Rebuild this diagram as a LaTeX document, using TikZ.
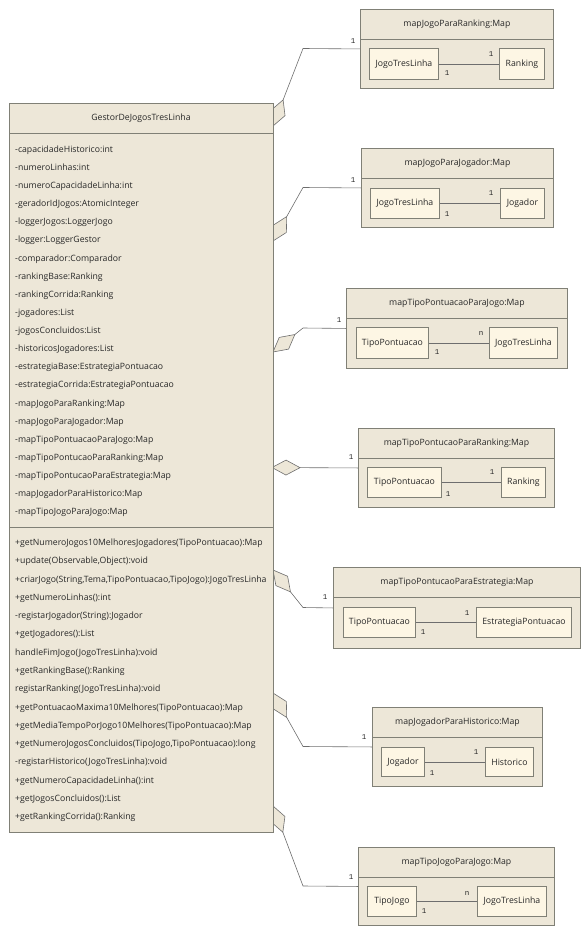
\documentclass[tikz,border=0pt]{standalone}
\usepackage{fontspec}
\setmainfont{Open Sans}
\newfontfamily\multfont{Liberation Mono}
\usetikzlibrary{calc}
\definecolor{classfill}{RGB}{237,231,216}
\definecolor{partfill}{RGB}{253,246,228}
\definecolor{edgecol}{RGB}{128,128,118}
\definecolor{linkcol}{RGB}{110,110,110}
\definecolor{textcol}{RGB}{40,40,40}
\newcommand\uml{\fontsize{8.7}{10}\selectfont}
\tikzset{
  box/.style={draw=edgecol, fill=classfill, line width=0.9pt, inner sep=0pt, anchor=north west},
  part/.style={draw=edgecol, fill=partfill, line width=0.9pt, inner sep=0pt, anchor=north west, font=\uml, text=textcol},
  member/.style={anchor=west, inner sep=0pt, font=\uml, text=textcol, text height=6.4pt, text depth=1.8pt},
  title/.style={inner sep=0pt, font=\uml, text=textcol},
  mult/.style={inner sep=0pt, font=\multfont\fontsize{7.5}{8}\selectfont, text=textcol},
  link/.style={draw=linkcol, line width=0.6pt},
  agg/.style={draw=linkcol, fill=classfill, line width=0.6pt, line join=miter},
}
% aggregation diamond: tip #1, pointing towards #2, far vertex named #3
\newcommand\aggregation[3]{%
  \draw[agg] (#1) -- ($(#1)!15.88pt!28.18:(#2)$) -- ($(#1)!28pt!(#2)$) coordinate (#3)
    -- ($(#1)!15.88pt!-28.18:(#2)$) -- cycle;}
% map compartment: name, top-left, width, height, title
\newcommand\mapbox[5]{%
  \node[box, minimum width=#3, minimum height=#4] (#1) at (#2) {};
  \node[title] (#1t) at ($(#1.north)+(0,15)$) {#5};
  \draw[draw=edgecol, line width=0.9pt] ($(#1.north west)+(0,30)$) -- ($(#1.north east)+(0,30)$);}
\begin{document}
\begin{tikzpicture}[x=1pt, y=-1pt]
\useasboundingbox (0,0) rectangle (588,934);

% ---- map objects on the right ----
\mapbox{mb1}{360,9}{193}{79}{mapJogoParaRanking:Map}
\node[part, minimum width=69, minimum height=31] (p1a) at (369,48) {JogoTresLinha};
\node[part, minimum width=45, minimum height=31] (p1b) at (499,48) {Ranking};
\draw[link] (p1a) -- (p1b);
\node[mult] (m1b) at (491,54) {1};
\node[mult] (m1a) at (447,73) {1};
\node[mult] (m1o) at (353,41) {1};

\mapbox{mb2}{361,148}{192}{79}{mapJogoParaJogador:Map}
\node[part, minimum width=69, minimum height=30] (p2a) at (370,188) {JogoTresLinha};
\node[part, minimum width=44, minimum height=30] (p2b) at (500,188) {Jogador};
\draw[link] (p2a) -- (p2b);
\node[mult] (m2b) at (491,193) {1};
\node[mult] (m2a) at (447,214) {1};
\node[mult] (m2o) at (353,180) {1};

\mapbox{mb3}{346,288}{221}{80}{mapTipoPontuacaoParaJogo:Map}
\node[part, minimum width=72, minimum height=31] (p3a) at (356,327) {TipoPontuacao};
\node[part, minimum width=68, minimum height=31] (p3b) at (489,327) {JogoTresLinha};
\draw[link] (p3a) -- (p3b);
\node[mult] (m3b) at (481,333) {n};
\node[mult] (m3a) at (437,352) {1};
\node[mult] (m3o) at (339,320) {1};

\mapbox{mb4}{358,428}{196}{79}{mapTipoPontucaoParaRanking:Map}
\node[part, minimum width=74, minimum height=30] (p4a) at (367,467) {TipoPontuacao};
\node[part, minimum width=44, minimum height=30] (p4b) at (501,467) {Ranking};
\draw[link] (p4a) -- (p4b);
\node[mult] (m4b) at (492,472) {1};
\node[mult] (m4a) at (448,494) {1};
\node[mult] (m4o) at (351,457) {1};

\mapbox{mb5}{333,567}{247}{81}{mapTipoPontucaoParaEstrategia:Map}
\node[part, minimum width=72, minimum height=30] (p5a) at (343,607) {TipoPontuacao};
\node[part, minimum width=95, minimum height=30] (p5b) at (476,607) {EstrategiaPontuacao};
\draw[link] (p5a) -- (p5b);
\node[mult] (m5b) at (467,613) {1};
\node[mult] (m5a) at (423,632) {1};
\node[mult] (m5o) at (325,597) {1};

\mapbox{mb6}{372,707}{170}{79}{mapJogadorParaHistorico:Map}
\node[part, minimum width=43, minimum height=29] (p6a) at (381,747) {Jogador};
\node[part, minimum width=48, minimum height=29] (p6b) at (485,747) {Historico};
\draw[link] (p6a) -- (p6b);
\node[mult] (m6b) at (476,752) {1};
\node[mult] (m6a) at (432,773) {1};
\node[mult] (m6o) at (364,737) {1};

\mapbox{mb7}{358,847}{196}{78}{mapTipoJogoParaJogo:Map}
\node[part, minimum width=49, minimum height=30] (p7a) at (367,886) {TipoJogo};
\node[part, minimum width=69, minimum height=30] (p7b) at (477,886) {JogoTresLinha};
\draw[link] (p7a) -- (p7b);
\node[mult] (m7b) at (467,893) {n};
\node[mult] (m7a) at (424,911) {1};
\node[mult] (m7o) at (351,877) {1};

% ---- aggregation links from the manager class ----
\coordinate (t1) at (273,126); \coordinate (b1) at (303,48.5);
\coordinate (t2) at (273,241); \coordinate (b2) at (303,187.5);
\coordinate (t3) at (273,352); \coordinate (b3) at (303,328);
\coordinate (t4) at (272,467.5);
\coordinate (t5) at (273,570); \coordinate (b5) at (303,607.5);
\coordinate (t6) at (273,693); \coordinate (b6) at (303,746.5);
\coordinate (t7) at (273,806); \coordinate (b7) at (303,886);

\aggregation{t1}{b1}{f1} \draw[link] (f1) -- (b1) -- (mb1.west);
\aggregation{t2}{b2}{f2} \draw[link] (f2) -- (b2) -- (mb2.west);
\aggregation{t3}{b3}{f3} \draw[link] (f3) -- (b3) -- (mb3.west);
\aggregation{t4}{mb4.west}{f4} \draw[link] (f4) -- (mb4.west);
\aggregation{t5}{b5}{f5} \draw[link] (f5) -- (b5) -- (mb5.west);
\aggregation{t6}{b6}{f6} \draw[link] (f6) -- (b6) -- (mb6.west);
\aggregation{t7}{b7}{f7} \draw[link] (f7) -- (b7) -- (mb7.west);

% ---- manager class ----
\node[box, minimum width=264, minimum height=729] (gestor) at (9,103) {};
\node[title] (gestort) at (141,118) {GestorDeJogosTresLinha};
\draw[draw=edgecol, line width=0.9pt] ($(gestor.north west)+(0,30)$) -- ($(gestor.north east)+(0,30)$);
\draw[draw=edgecol, line width=0.9pt] ($(gestor.north west)+(0,424)$) -- ($(gestor.north east)+(0,424)$);

\foreach \t [count=\i] in {
  -capacidadeHistorico:int,
  -numeroLinhas:int,
  -numeroCapacidadeLinha:int,
  -geradorIdJogos:AtomicInteger,
  -loggerJogos:LoggerJogo,
  -logger:LoggerGestor,
  -comparador:Comparador,
  -rankingBase:Ranking,
  -rankingCorrida:Ranking,
  -jogadores:List,
  -jogosConcluidos:List,
  -historicosJogadores:List,
  -estrategiaBase:EstrategiaPontuacao,
  -estrategiaCorrida:EstrategiaPontuacao,
  -mapJogoParaRanking:Map,
  -mapJogoParaJogador:Map,
  -mapTipoPontuacaoParaJogo:Map,
  -mapTipoPontucaoParaRanking:Map,
  -mapTipoPontucaoParaEstrategia:Map,
  -mapJogadorParaHistorico:Map,
  -mapTipoJogoParaJogo:Map}
  \node[member] (attr\i) at (15,{150+18.13*(\i-1)}) {\t};

\foreach \t [count=\i] in {
  {+getNumeroJogos10MelhoresJogadores(TipoPontuacao):Map},
  {+update(Observable,Object):void},
  {+criarJogo(String,Tema,TipoPontuacao,TipoJogo):JogoTresLinha},
  {+getNumeroLinhas():int},
  {-registarJogador(String):Jogador},
  {+getJogadores():List},
  {handleFimJogo(JogoTresLinha):void},
  {+getRankingBase():Ranking},
  {registarRanking(JogoTresLinha):void},
  {+getPontuacaoMaxima10Melhores(TipoPontuacao):Map},
  {+getMediaTempoPorJogo10Melhores(TipoPontuacao):Map},
  {+getNumeroJogosConcluidos(TipoJogo,TipoPontuacao):long},
  {-registarHistorico(JogoTresLinha):void},
  {+getNumeroCapacidadeLinha():int},
  {+getJogosConcluidos():List},
  {+getRankingCorrida():Ranking}}
  \node[member] (op\i) at (15,{543.3+18.27*(\i-1)}) {\t};
\end{tikzpicture}
\end{document}
